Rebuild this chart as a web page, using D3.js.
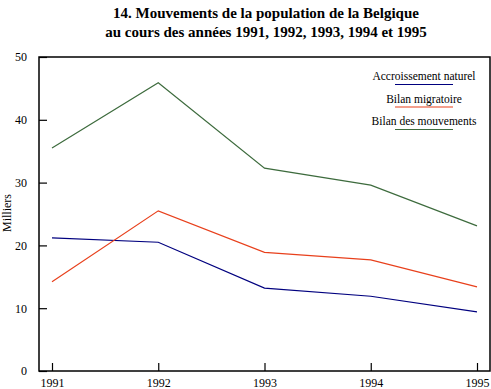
<!DOCTYPE html>
<html>
<head>
<meta charset="utf-8">
<script src="https://cdn.jsdelivr.net/npm/d3@7"></script>
<style>
  body { margin: 0; background: #fff; }
  svg { display: block; font-family: "Liberation Serif", "Times New Roman", serif; }
</style>
</head>
<body>
<svg id="chart" width="491" height="389"></svg>
<script>
var years = ["1991", "1992", "1993", "1994", "1995"];
var accroissement = [21.2, 20.5, 13.2, 11.9, 9.4];
var migratoire = [14.2, 25.5, 18.9, 17.7, 13.4];
var mouvements = [35.5, 45.9, 32.3, 29.6, 23.1];
var yTicks = [0, 10, 20, 30, 40, 50];
var seriesNames = ["Accroissement naturel", "Bilan migratoire", "Bilan des mouvements"];
var seriesColors = ["#00007f", "#e8401c", "#3d6b3d"];

var svg = d3.select("#chart");

var box = { left: 39, top: 57, right: 490, bottom: 371 };

var x = d3.scalePoint().domain(years).range([52, 477]);
var y = d3.scaleLinear().domain([0, 50]).range([box.bottom, box.top]);

// title
var title = svg.append("text")
    .attr("x", 266)
    .attr("text-anchor", "middle")
    .style("font-weight", "bold")
    .style("font-size", "15px");
title.append("tspan").attr("x", 266).attr("y", 18).text("14.  Mouvements de la population de la Belgique");
title.append("tspan").attr("x", 266).attr("y", 37).text("au cours des années 1991, 1992, 1993, 1994 et 1995");

// frame
svg.append("rect")
    .attr("x", box.left)
    .attr("y", box.top)
    .attr("width", box.right - box.left)
    .attr("height", box.bottom - box.top)
    .attr("fill", "none")
    .attr("stroke", "#000")
    .attr("stroke-width", 1.5);

// y axis (ticks inward)
var yAxis = svg.append("g")
    .attr("transform", "translate(" + box.left + ",0)")
    .call(d3.axisRight(y).tickValues(yTicks).tickSize(8).tickFormat(d3.format("d")));
yAxis.select(".domain").remove();
yAxis.selectAll("line").attr("stroke", "#000").attr("stroke-width", 1.2);
yAxis.selectAll("text")
    .attr("x", -12)
    .attr("text-anchor", "end")
    .style("font-size", "12px")
    .style("font-family", "'Liberation Serif', serif")
    .attr("fill", "#000");

// x axis (ticks inward)
var xAxis = svg.append("g")
    .attr("transform", "translate(0," + box.bottom + ")")
    .call(d3.axisTop(x).tickSize(8));
xAxis.select(".domain").remove();
xAxis.selectAll("line").attr("stroke", "#000").attr("stroke-width", 1.2);
xAxis.selectAll("text")
    .attr("y", 16)
    .attr("dy", null)
    .style("font-size", "12px")
    .style("font-family", "'Liberation Serif', serif")
    .attr("fill", "#000");

// y label
svg.append("text")
    .attr("transform", "translate(11,213) rotate(-90)")
    .attr("text-anchor", "middle")
    .style("font-size", "12px")
    .text("Milliers");

// lines
var line = d3.line()
    .x(function(d, i) { return x(years[i]); })
    .y(function(d) { return y(d); });

[accroissement, migratoire, mouvements].forEach(function(values, i) {
    svg.append("path")
        .datum(values)
        .attr("d", line)
        .attr("fill", "none")
        .attr("stroke", seriesColors[i])
        .attr("stroke-width", 1.2);
});

// legend
var legend = svg.append("g").attr("class", "legend");
seriesNames.forEach(function(name, i) {
    var ly = 80 + i * 22.5;
    legend.append("text")
        .attr("x", 424)
        .attr("y", ly)
        .attr("text-anchor", "middle")
        .style("font-size", "11.5px")
        .text(name);
    legend.append("line")
        .attr("x1", 395)
        .attr("x2", 453)
        .attr("y1", ly + 4.5)
        .attr("y2", ly + 4.5)
        .attr("stroke", seriesColors[i])
        .attr("stroke-width", 1.2);
});
</script>
</body>
</html>
